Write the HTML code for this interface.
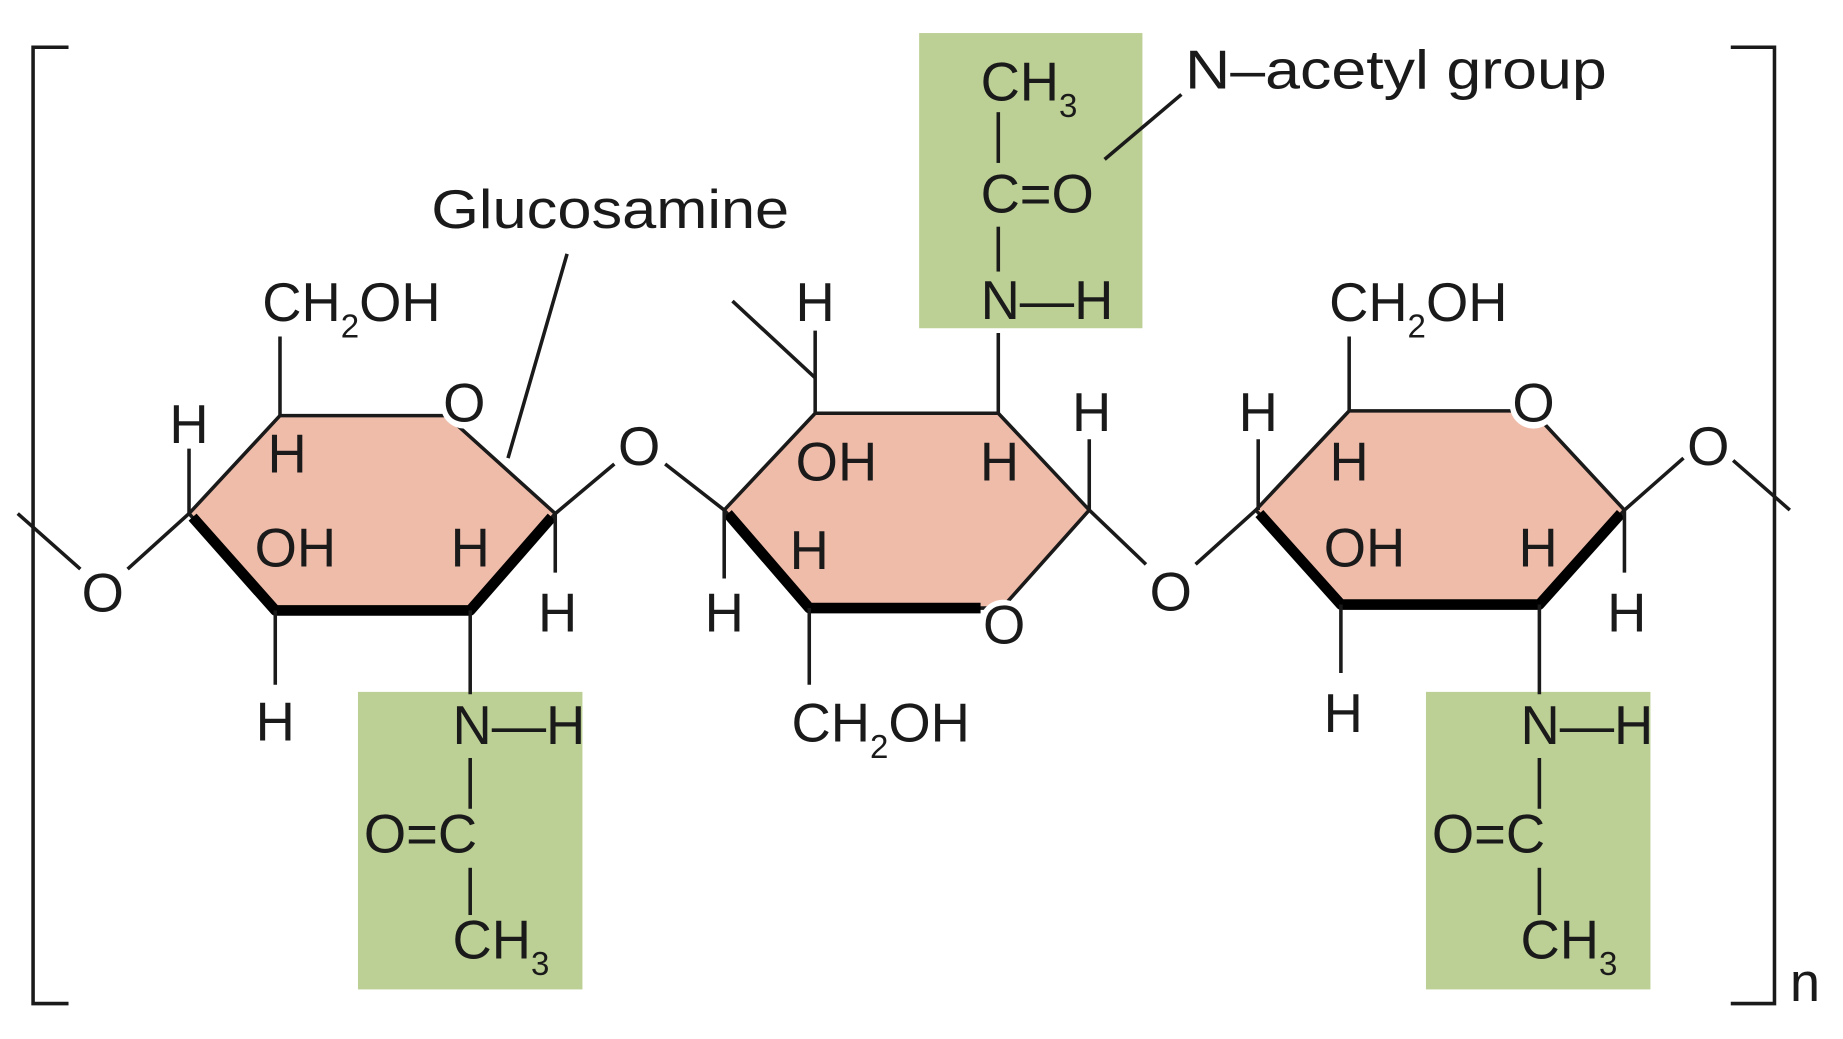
<!DOCTYPE html>
<html><head><meta charset="utf-8"><style>
html,body{margin:0;padding:0;background:#fff;}
svg{display:block;}
text{font-family:"Liberation Sans",sans-serif;font-size:46px;fill:#1a1a1a;}
.s{font-size:28px;}
</style></head><body>
<svg width="1843" height="1039" viewBox="0 0 1560 880" preserveAspectRatio="none" xmlns="http://www.w3.org/2000/svg">
<g fill="#bccf94">
<rect x="303" y="586" width="190" height="252"/>
<rect x="778" y="28" width="189" height="250"/>
<rect x="1207" y="586" width="190" height="252"/>
</g>
<g fill="#f0bcaa" stroke="#1a1a1a" stroke-width="3" stroke-linejoin="round">
<polygon points="160,435 237,352 378,352 470,435 398,517 233,517"/>
<polygon points="613,432 690,350 845,350 922,432 848,515 685,515"/>
<polygon points="1063,432 1142,348 1297,348 1375,432 1303,512 1135,512"/>
</g>
<g stroke="#000" stroke-width="9" fill="none" stroke-linejoin="round">
<polyline points="163,438 233,517 398,517 467,438"/>
<polyline points="616,435 685,515 830,515"/>
<polyline points="1066,435 1135,512 1303,512 1372,435"/>
</g>
<g fill="#fff">
<circle cx="393" cy="343" r="20"/><circle cx="849" cy="528" r="20"/><circle cx="1298" cy="343" r="20"/>
</g>
<g stroke="#1a1a1a" stroke-width="3" fill="none">
<line x1="237" y1="285" x2="237" y2="352"/>
<line x1="160" y1="380" x2="160" y2="435"/>
<line x1="470" y1="435" x2="470" y2="485"/>
<line x1="233" y1="517" x2="233" y2="580"/>
<line x1="160" y1="435" x2="108" y2="482"/>
<line x1="68" y1="482" x2="15" y2="435"/>
<line x1="398" y1="517" x2="398" y2="588"/>
<line x1="398" y1="642" x2="398" y2="685"/>
<line x1="398" y1="735" x2="398" y2="775"/>
<line x1="470" y1="435" x2="520" y2="393"/>
<line x1="563" y1="393" x2="613" y2="432"/>
<line x1="480" y1="215" x2="430" y2="388"/>
<line x1="690" y1="280" x2="690" y2="350"/>
<line x1="620" y1="255" x2="690" y2="320"/>
<line x1="845" y1="282" x2="845" y2="350"/>
<line x1="845" y1="95" x2="845" y2="138"/>
<line x1="845" y1="192" x2="845" y2="230"/>
<line x1="922" y1="372" x2="922" y2="432"/>
<line x1="613" y1="432" x2="613" y2="490"/>
<line x1="685" y1="515" x2="685" y2="580"/>
<line x1="1000" y1="80" x2="935" y2="135"/>
<line x1="922" y1="432" x2="970" y2="478"/>
<line x1="1012" y1="478" x2="1063" y2="432"/>
<line x1="1142" y1="285" x2="1142" y2="348"/>
<line x1="1065" y1="372" x2="1065" y2="432"/>
<line x1="1375" y1="432" x2="1375" y2="485"/>
<line x1="1135" y1="512" x2="1135" y2="570"/>
<line x1="1303" y1="512" x2="1303" y2="588"/>
<line x1="1303" y1="642" x2="1303" y2="685"/>
<line x1="1303" y1="735" x2="1303" y2="775"/>
<line x1="1375" y1="432" x2="1425" y2="388"/>
<line x1="1467" y1="390" x2="1515" y2="432"/>
<polyline points="58,40 28,40 28,850 58,850"/>
<polyline points="1465,40 1502,40 1502,850 1465,850"/>
</g>
<!-- ring 1 -->
<text x="222" y="272">CH<tspan class="s" dy="14">2</tspan><tspan dy="-14">OH</tspan></text>
<text x="393" y="357" text-anchor="middle">O</text>
<text x="160" y="375" text-anchor="middle">H</text>
<text x="243" y="400" text-anchor="middle">H</text>
<text x="250" y="480" text-anchor="middle">OH</text>
<text x="398" y="480" text-anchor="middle">H</text>
<text x="472" y="535" text-anchor="middle">H</text>
<text x="233" y="627" text-anchor="middle">H</text>
<text x="87" y="518" text-anchor="middle">O</text>
<text x="383" y="630">N—H</text>
<text x="308" y="722">O=C</text>
<text x="383" y="812">CH<tspan class="s" dy="14">3</tspan></text>
<text x="541" y="394" text-anchor="middle">O</text>
<text x="365" y="193" textLength="303" lengthAdjust="spacingAndGlyphs">Glucosamine</text>
<!-- ring 2 -->
<text x="690" y="272" text-anchor="middle">H</text>
<text x="708" y="407" text-anchor="middle">OH</text>
<text x="846" y="407" text-anchor="middle">H</text>
<text x="685" y="482" text-anchor="middle">H</text>
<text x="830" y="85">CH<tspan class="s" dy="14">3</tspan></text>
<text x="830" y="180">C=O</text>
<text x="830" y="270">N—H</text>
<text x="924" y="365" text-anchor="middle">H</text>
<text x="613" y="535" text-anchor="middle">H</text>
<text x="850" y="545" text-anchor="middle">O</text>
<text x="670" y="628">CH<tspan class="s" dy="14">2</tspan><tspan dy="-14">OH</tspan></text>
<text x="1003" y="75" textLength="357" lengthAdjust="spacingAndGlyphs">N–acetyl group</text>
<text x="991" y="517" text-anchor="middle">O</text>
<!-- ring 3 -->
<text x="1125" y="272">CH<tspan class="s" dy="14">2</tspan><tspan dy="-14">OH</tspan></text>
<text x="1298" y="357" text-anchor="middle">O</text>
<text x="1065" y="365" text-anchor="middle">H</text>
<text x="1142" y="407" text-anchor="middle">H</text>
<text x="1155" y="480" text-anchor="middle">OH</text>
<text x="1302" y="480" text-anchor="middle">H</text>
<text x="1377" y="535" text-anchor="middle">H</text>
<text x="1137" y="620" text-anchor="middle">H</text>
<text x="1287" y="630">N—H</text>
<text x="1212" y="722">O=C</text>
<text x="1287" y="812">CH<tspan class="s" dy="14">3</tspan></text>
<text x="1446" y="394" text-anchor="middle">O</text>
<text x="1515" y="848">n</text>
</svg>
</body></html>
